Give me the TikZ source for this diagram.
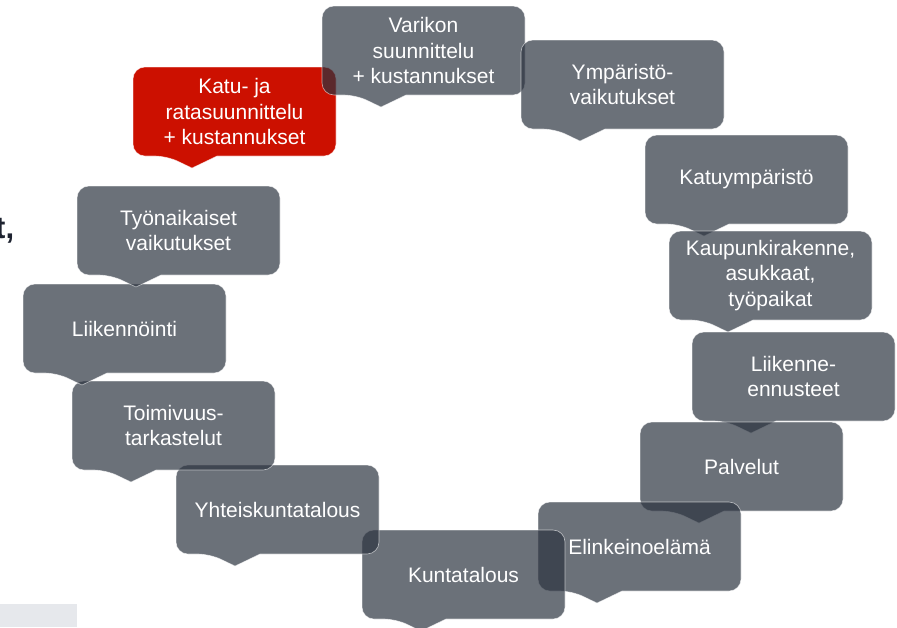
\documentclass[tikz,border=0pt]{standalone}
\usepackage{fontspec}
\setmainfont{Liberation Sans}
\usepackage{tikz}
\definecolor{boxgray}{RGB}{44,52,64}
\definecolor{boxred}{RGB}{204,16,0}
\definecolor{pagegray}{RGB}{230,232,236}
\definecolor{inkblue}{RGB}{30,35,48}

\begin{document}
\begin{tikzpicture}[line cap=round,line join=round,x=1pt,y=-1pt,
  graybox/.style={fill=boxgray,fill opacity=0.7,draw=white,draw opacity=0.6,line width=0.6pt},
  redbox/.style={fill=boxred,draw=white,draw opacity=0.6,line width=0.6pt},
  boxtext/.style={minimum width=203pt,minimum height=89pt,inner sep=0pt,align=center,text=white,font=\fontsize{21}{25.5}\selectfont}]
\useasboundingbox (0,0) rectangle (897,627);
\clip (0,0) rectangle (897,627);

\fill [pagegray] (0,604) rectangle (77,627);
\node [anchor=base west,inner sep=0pt,text=inkblue,font=\fontsize{31}{31}\bfseries] (cut) at (-5,238) {t,};

% callouts, clockwise from the red one
\filldraw [redbox] (167,156) -- ++(25,12) -- ++(25,-12) [rounded corners=12pt] -- (336,156) -- (336,67) -- (133,67) -- (133,156) -- cycle;
\filldraw [graybox] (356,95) -- ++(25,12) -- ++(25,-12) [rounded corners=12pt] -- (525,95) -- (525,6) -- (322,6) -- (322,95) -- cycle;
\filldraw [graybox] (555,129) -- ++(25,12) -- ++(25,-12) [rounded corners=12pt] -- (724,129) -- (724,40) -- (521,40) -- (521,129) -- cycle;
\filldraw [graybox] (679,224) -- ++(25,12) -- ++(25,-12) [rounded corners=12pt] -- (848,224) -- (848,135) -- (645,135) -- (645,224) -- cycle;
\filldraw [graybox] (703,320) -- ++(25,12) -- ++(25,-12) [rounded corners=12pt] -- (872,320) -- (872,231) -- (669,231) -- (669,320) -- cycle;
\filldraw [graybox] (726,421) -- ++(25,12) -- ++(25,-12) [rounded corners=12pt] -- (895,421) -- (895,332) -- (692,332) -- (692,421) -- cycle;
\filldraw [graybox] (674,511) -- ++(25,12) -- ++(25,-12) [rounded corners=12pt] -- (843,511) -- (843,422) -- (640,422) -- (640,511) -- cycle;
\filldraw [graybox] (572,591) -- ++(25,12) -- ++(25,-12) [rounded corners=12pt] -- (741,591) -- (741,502) -- (538,502) -- (538,591) -- cycle;
\filldraw [graybox] (396,619) -- ++(25,12) -- ++(25,-12) [rounded corners=12pt] -- (565,619) -- (565,530) -- (362,530) -- (362,619) -- cycle;
\filldraw [graybox] (210,554) -- ++(25,12) -- ++(25,-12) [rounded corners=12pt] -- (379,554) -- (379,465) -- (176,465) -- (176,554) -- cycle;
\filldraw [graybox] (106,470) -- ++(25,12) -- ++(25,-12) [rounded corners=12pt] -- (275,470) -- (275,381) -- (72,381) -- (72,470) -- cycle;
\filldraw [graybox] (57,373) -- ++(25,12) -- ++(25,-12) [rounded corners=12pt] -- (226,373) -- (226,284) -- (23,284) -- (23,373) -- cycle;
\filldraw [graybox] (111,275) -- ++(25,12) -- ++(25,-12) [rounded corners=12pt] -- (280,275) -- (280,186) -- (77,186) -- (77,275) -- cycle;

% texts
\node [boxtext] (katu) at (234.5,111.5) {Katu- ja\\ratasuunnittelu\\+ kustannukset};
\node [boxtext] (varikko) at (423.5,50.5) {Varikon\\suunnittelu\\+ kustannukset};
\node [boxtext] (ymparisto) at (622.5,84.5) {Ympäristö-\\vaikutukset};
\node [boxtext] (katuymp) at (746.5,179.5) {Katuympäristö};
\node [boxtext] (kaupunki) at (770.5,275.5) {Kaupunkirakenne,\\asukkaat,\\työpaikat};
\node [boxtext] (ennusteet) at (793.5,376.5) {Liikenne-\\ennusteet};
\node [boxtext] (palvelut) at (741.5,466.5) {Palvelut};
\node [boxtext] (elinkeino) at (639.5,546.5) {Elinkeinoelämä};
\node [boxtext] (kunta) at (463.5,574.5) {Kuntatalous};
\node [boxtext] (yhteis) at (277.5,509.5) {Yhteiskuntatalous};
\node [boxtext] (toimivuus) at (173.5,425.5) {Toimivuus-\\tarkastelut};
\node [boxtext] (liikennointi) at (124.5,328.5) {Liikennöinti};
\node [boxtext] (tyonaikaiset) at (178.5,230.5) {Työnaikaiset\\vaikutukset};
\end{tikzpicture}
\end{document}
